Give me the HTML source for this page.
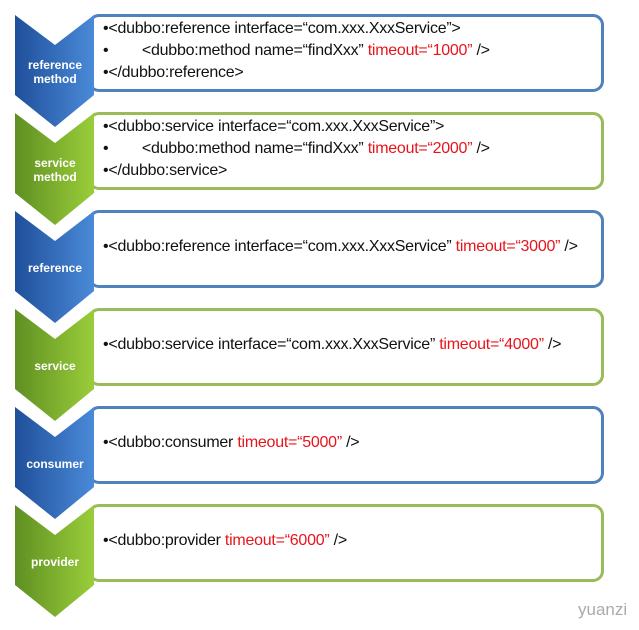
<!DOCTYPE html><html><head><style>
body{margin:0;width:639px;height:630px;background:#fff;position:relative;font-family:"Liberation Sans",sans-serif;overflow:hidden}
.box{position:absolute;left:88px;width:510px;height:72px;border:3px solid;border-radius:11px;background:#fff}
.b{border-color:#4f81bd}.g{border-color:#9bbb59}
.t{position:absolute;left:103px;font-size:16px;color:#111;white-space:pre;letter-spacing:-0.25px}
.r{color:#e8141c}
svg{position:absolute;left:0;top:0}
.lab{position:absolute;width:80px;left:15px;text-align:center;color:#fff;font-weight:bold;font-size:12px;line-height:14px}
</style></head><body>
<div class="box b" style="top:14px"></div>
<div class="box g" style="top:112px"></div>
<div class="box b" style="top:210px"></div>
<div class="box g" style="top:308px"></div>
<div class="box b" style="top:406px"></div>
<div class="box g" style="top:504px"></div>
<svg width="639" height="630">
<defs>
<linearGradient id="bl" x1="0" x2="1"><stop offset="0" stop-color="#1f4f9a"/><stop offset="1" stop-color="#4a8ad8"/></linearGradient>
<linearGradient id="gr" x1="0" x2="1"><stop offset="0" stop-color="#5f8f22"/><stop offset="1" stop-color="#9acd3a"/></linearGradient>
</defs>
<polygon points="15,15 55,45 94,15 94,95 55,127 15,95" fill="url(#bl)"/>
<polygon transform="translate(0,98)" points="15,15 55,45 94,15 94,95 55,127 15,95" fill="url(#gr)"/>
<polygon transform="translate(0,196)" points="15,15 55,45 94,15 94,95 55,127 15,95" fill="url(#bl)"/>
<polygon transform="translate(0,294)" points="15,15 55,45 94,15 94,95 55,127 15,95" fill="url(#gr)"/>
<polygon transform="translate(0,392)" points="15,15 55,45 94,15 94,95 55,127 15,95" fill="url(#bl)"/>
<polygon transform="translate(0,490)" points="15,15 55,45 94,15 94,95 55,127 15,95" fill="url(#gr)"/>
</svg>
<div class="lab" style="top:58px">reference<br>method</div>
<div class="lab" style="top:156px">service<br>method</div>
<div class="lab" style="top:261px">reference</div>
<div class="lab" style="top:359px">service</div>
<div class="lab" style="top:457px">consumer</div>
<div class="lab" style="top:555px">provider</div>
<div class="t" style="top:20px">•&lt;dubbo:reference interface=“com.xxx.XxxService”&gt;</div>
<div class="t" style="top:42px">•        &lt;dubbo:method name=“findXxx” <span class="r">timeout=“1000”</span> /&gt;</div>
<div class="t" style="top:64px">•&lt;/dubbo:reference&gt;</div>
<div class="t" style="top:118px">•&lt;dubbo:service interface=“com.xxx.XxxService”&gt;</div>
<div class="t" style="top:140px">•        &lt;dubbo:method name=“findXxx” <span class="r">timeout=“2000”</span> /&gt;</div>
<div class="t" style="top:162px">•&lt;/dubbo:service&gt;</div>
<div class="t" style="top:238px">•&lt;dubbo:reference interface=“com.xxx.XxxService” <span class="r">timeout=“3000”</span> /&gt;</div>
<div class="t" style="top:336px">•&lt;dubbo:service interface=“com.xxx.XxxService” <span class="r">timeout=“4000”</span> /&gt;</div>
<div class="t" style="top:434px">•&lt;dubbo:consumer <span class="r">timeout=“5000”</span> /&gt;</div>
<div class="t" style="top:532px">•&lt;dubbo:provider <span class="r">timeout=“6000”</span> /&gt;</div>
<div style="position:absolute;left:578px;top:600px;font-size:17px;color:#aaa">yuanzi</div>
</body></html>
